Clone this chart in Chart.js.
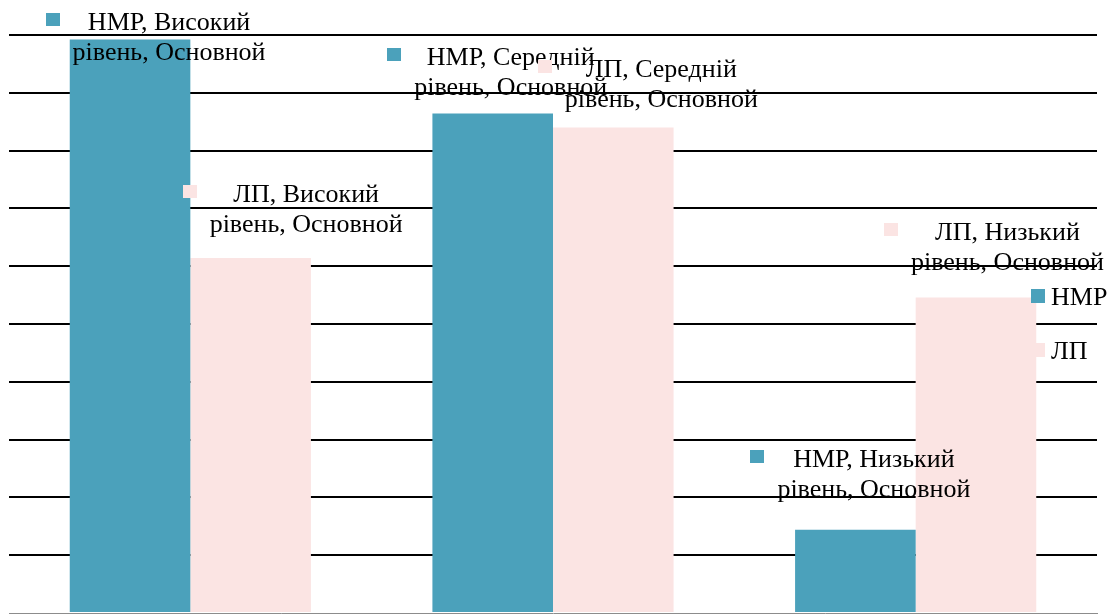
<!DOCTYPE html>
<html>
<head>
<meta charset="utf-8">
<script src="https://cdn.jsdelivr.net/npm/chart.js@4"></script>
<style>
  html, body { margin: 0; padding: 0; background: #fff; }
  #wrap { width: 1114px; height: 614px; }
</style>
</head>
<body>
<div id="wrap"><canvas id="chart" width="1114" height="614"></canvas></div>
<script>
// --- Data ---
const categories = ['Високий', 'Середній', 'Низький'];
const nmrValues = [49.6, 43.2, 7.2];
const lpValues = [30.7, 42.0, 27.3];
const seriesNames = ['НМР', 'ЛП'];
const groupName = 'Основной';

// Colours
const teal = '#4ba1bb';
const pink = '#fbe4e3';
const FONT = '26px "Liberation Serif", "DejaVu Serif", serif';

// label placement relative to bar centre / bar top (px)
const labelShift = [
    [[39, -10], [18, -49], [18.5, -63]],
    [[55.5, -56], [48, -50], [31.5, -57]]
];

// Data labels with legend key, Excel style
const dataLabels = {
    id: 'dataLabels',
    afterDatasetsDraw(chart) {
        const ctx = chart.ctx;
        ctx.save();
        ctx.font = FONT;
        ctx.textAlign = 'center';
        ctx.textBaseline = 'alphabetic';
        chart.data.datasets.forEach((ds, i) => {
            const meta = chart.getDatasetMeta(i);
            meta.data.forEach((bar, j) => {
                const [dx, dy] = labelShift[i][j];
                const cx = bar.x + dx;
                const base = bar.y + dy;
                const l1 = `${ds.label}, ${categories[j]}`;
                const l2 = `рівень, ${groupName}`;
                const w = Math.max(ctx.measureText(l1).width, ctx.measureText(l2).width);
                ctx.fillStyle = ds.backgroundColor;
                ctx.fillRect(Math.round(cx - w / 2 - 27), Math.round(base - 17), 14, 13);
                ctx.fillStyle = '#000';
                ctx.fillText(l1, cx, base);
                ctx.fillText(l2, cx, base + 30);
            });
        });
        ctx.restore();
    }
};

// Legend drawn over the plot, right side
const sideLegend = {
    id: 'sideLegend',
    afterDraw(chart) {
        const ctx = chart.ctx;
        const area = chart.chartArea;
        ctx.save();
        ctx.font = FONT;
        ctx.textAlign = 'left';
        chart.data.datasets.forEach((ds, i) => {
            const y = area.top + 254 + i * 54;
            ctx.fillStyle = ds.backgroundColor;
            ctx.fillRect(area.right - 66, y, 14, 14);
            ctx.fillStyle = '#000';
            ctx.fillText(ds.label, area.right - 46, y + 16);
        });
        ctx.restore();
    }
};

const chart = new Chart(document.getElementById('chart').getContext('2d'), {
    type: 'bar',
    data: {
        labels: categories,
        datasets: [
            { label: seriesNames[0], data: nmrValues, backgroundColor: teal },
            { label: seriesNames[1], data: lpValues, backgroundColor: pink }
        ]
    },
    options: {
        responsive: false,
        animation: false,
        layout: { padding: { left: 9, right: 17, top: 35, bottom: 1 } },
        datasets: { bar: { categoryPercentage: 0.665, barPercentage: 1.0, borderWidth: 0 } },
        scales: {
            x: {
                ticks: { display: false },
                grid: { display: false, drawTicks: false },
                border: { display: true, color: '#8c8c8c', width: 1 }
            },
            y: {
                min: 0,
                max: 50,
                ticks: { display: false, stepSize: 5 },
                grid: {
                    drawTicks: false,
                    lineWidth: 2,
                    color: (c) => c.tick && c.tick.value === 0 ? 'rgba(0,0,0,0)' : '#000'
                },
                border: { display: false }
            }
        },
        plugins: { legend: { display: false }, tooltip: { enabled: false } }
    },
    plugins: [dataLabels, sideLegend]
});
</script>
</body>
</html>
